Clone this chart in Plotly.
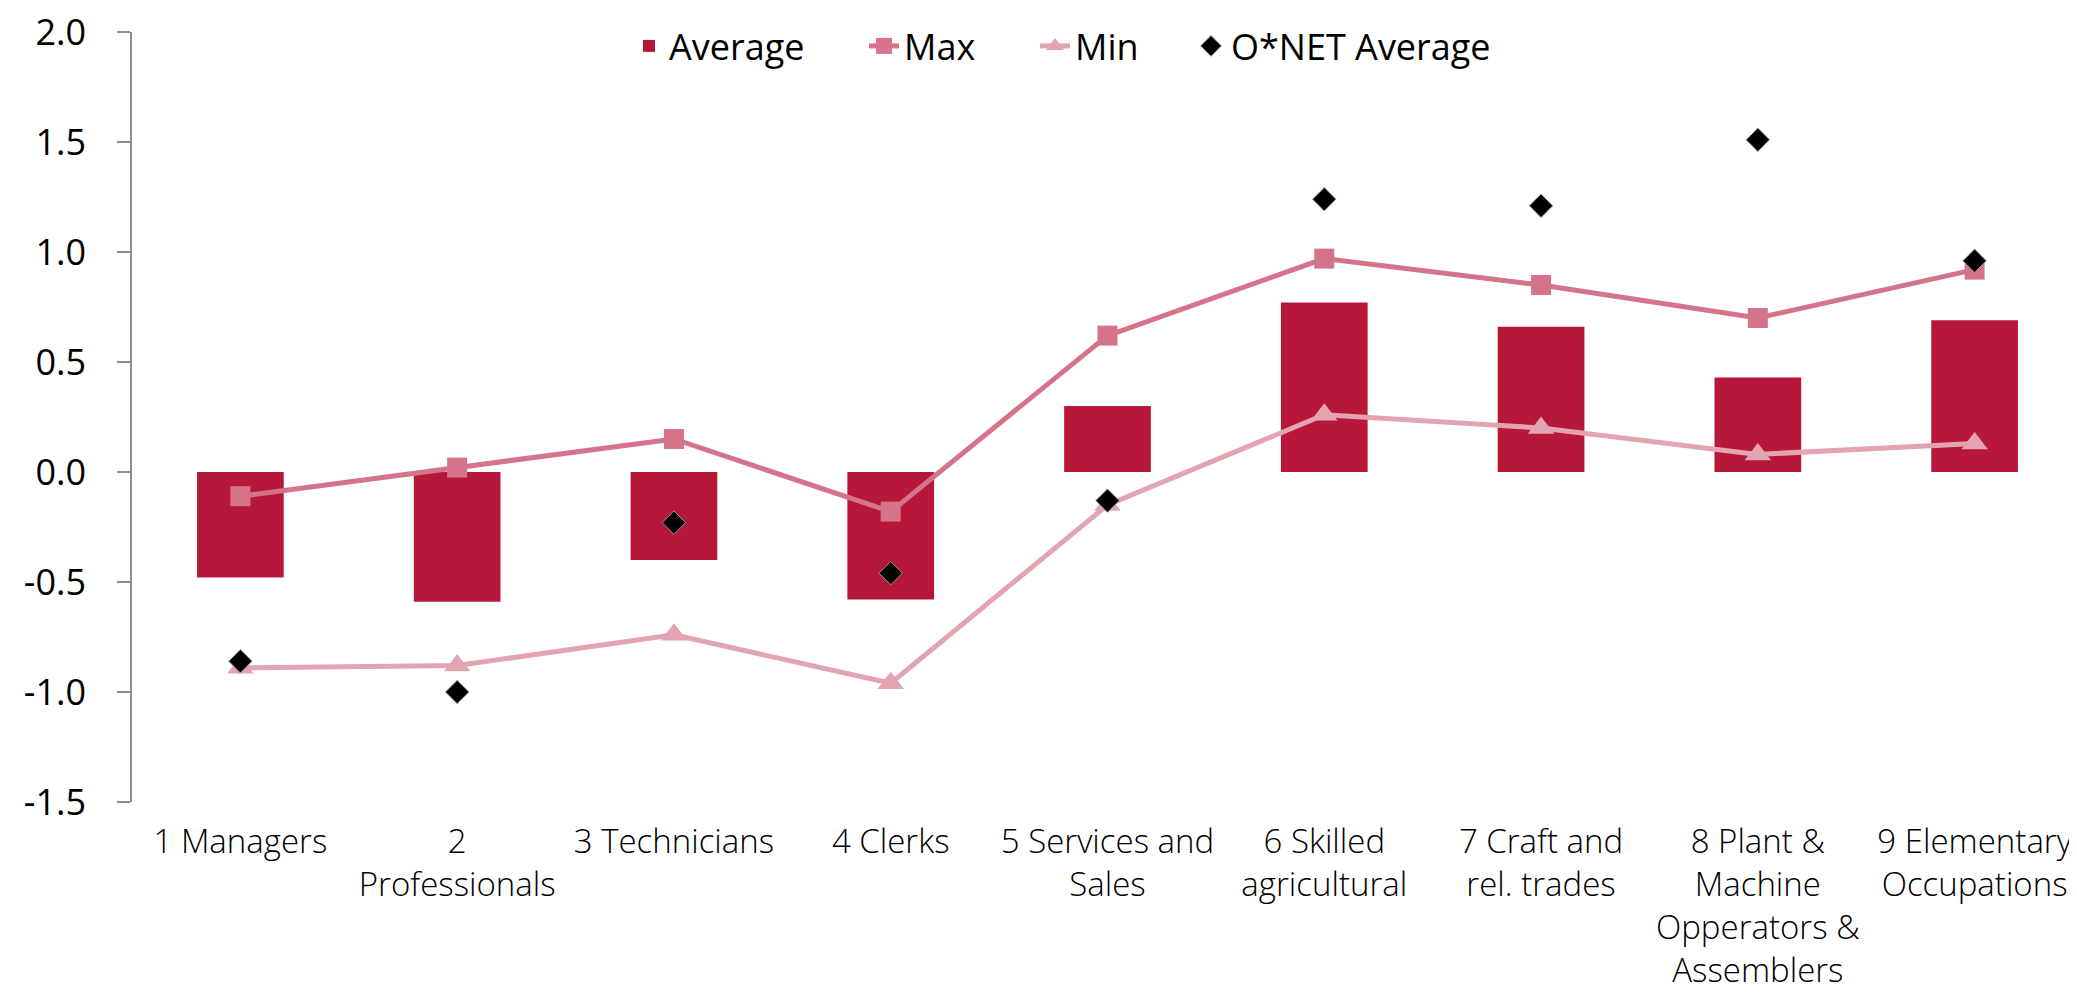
import plotly.graph_objects as go

# ---- data ----
occupations = [
    "1 Managers",
    "2<br>Professionals",
    "3 Technicians",
    "4 Clerks",
    "5 Services and<br>Sales",
    "6 Skilled<br>agricultural",
    "7 Craft and<br>rel. trades",
    "8 Plant &<br>Machine<br>Opperators &<br>Assemblers",
    "9 Elementary<br>Occupations",
]
average = [-0.48, -0.59, -0.40, -0.58, 0.30, 0.77, 0.66, 0.43, 0.69]
max_vals = [-0.11, 0.02, 0.15, -0.18, 0.62, 0.97, 0.85, 0.70, 0.92]
min_vals = [-0.89, -0.88, -0.74, -0.96, -0.15, 0.26, 0.20, 0.08, 0.13]
onet_avg = [-0.86, -1.00, -0.23, -0.46, -0.13, 1.24, 1.21, 1.51, 0.96]

y_ticks = [-1.5, -1.0, -0.5, 0.0, 0.5, 1.0, 1.5, 2.0]
y_labels = [f"{v:.1f}" for v in y_ticks]

BAR_RED = "rgb(183,24,57)"
MAX_PINK = "rgb(212,115,137)"
MIN_PINK = "rgb(227,164,177)"
AXIS_GREY = "rgb(140,140,140)"
FONT = "Open Sans"

W, H = 2077, 992
L, R, T, B = 124, 2, 24, 198
plot_w, plot_h = W - L - R, H - T - B

fig = go.Figure()

fig.add_trace(go.Bar(
    x=occupations, y=average, name="Average",
    marker=dict(color=BAR_RED, line=dict(width=0)),
    width=0.4, legend="legend", showlegend=True,
))
fig.add_trace(go.Scatter(
    x=occupations, y=max_vals, name="Max", mode="lines+markers",
    line=dict(color=MAX_PINK, width=5),
    marker=dict(symbol="square", size=20, color=MAX_PINK),
    legend="legend2", showlegend=True,
))
fig.add_trace(go.Scatter(
    x=occupations, y=min_vals, name="Min", mode="lines+markers",
    line=dict(color=MIN_PINK, width=5),
    marker=dict(symbol="triangle-up", size=23, color=MIN_PINK),
    legend="legend3", showlegend=True,
))
fig.add_trace(go.Scatter(
    x=occupations, y=onet_avg, name="O*NET Average", mode="markers",
    marker=dict(symbol="diamond", size=18, color="black",
                line=dict(color="rgb(150,150,150)", width=1)),
    legend="legend4", showlegend=True,
))

# category axis (labels at the bottom, no line)
fig.update_xaxes(
    type="category", range=[-0.5, len(occupations) - 0.5],
    showline=False, showgrid=False, zeroline=False, ticks="",
    tickfont=dict(family=FONT, size=33, color="black", weight=300),
    ticklabelstandoff=17, automargin=False,
)

# value axis
fig.update_yaxes(
    range=[min(y_ticks), max(y_ticks)],
    tickvals=y_ticks, ticktext=y_labels,
    showgrid=False, zeroline=False,
    showline=True, linecolor=AXIS_GREY, linewidth=1.5,
    ticks="outside", ticklen=13, tickcolor=AXIS_GREY, tickwidth=1.5,
    tickfont=dict(family=FONT, size=36, color="black"),
    ticklabelstandoff=24, ticklabeloverflow="allow", automargin=False,
)

# axis line crossing at zero, with tick marks between categories
zero_pos = (0 - min(y_ticks)) / (max(y_ticks) - min(y_ticks))
fig.update_layout(
    xaxis2=dict(
        overlaying="x", anchor="free", position=zero_pos, side="bottom",
        range=[-0.5, len(occupations) - 0.5], autorange=False,
        showline=True, linecolor=AXIS_GREY, linewidth=1.5,
        ticks="outside", ticklen=10, tickcolor=AXIS_GREY, tickwidth=1.5,
        tickvals=[i - 0.5 for i in range(len(occupations) + 1)],
        showticklabels=False, showgrid=False, zeroline=False,
    )
)

# one legend per series so each entry sits where the reference has it
legend_style = dict(
    xref="paper", yref="paper", y=(H - B - 38) / plot_h, yanchor="middle",
    xanchor="left", orientation="h",
    font=dict(family=FONT, size=36, color="black"),
    bgcolor="rgba(0,0,0,0)", borderwidth=0,
)
fig.update_layout(
    showlegend=True,
    legend=dict(x=(621 - L) / plot_w, **legend_style),
    legend2=dict(x=(856 - L) / plot_w, **legend_style),
    legend3=dict(x=(1027 - L) / plot_w, **legend_style),
    legend4=dict(x=(1183 - L) / plot_w, **legend_style),
)

fig.update_layout(
    width=W, height=H,
    margin=dict(l=L, r=R, t=T, b=B, autoexpand=False),
    paper_bgcolor="white", plot_bgcolor="white",
    bargap=0.6,
)

fig.write_html("out.html")
